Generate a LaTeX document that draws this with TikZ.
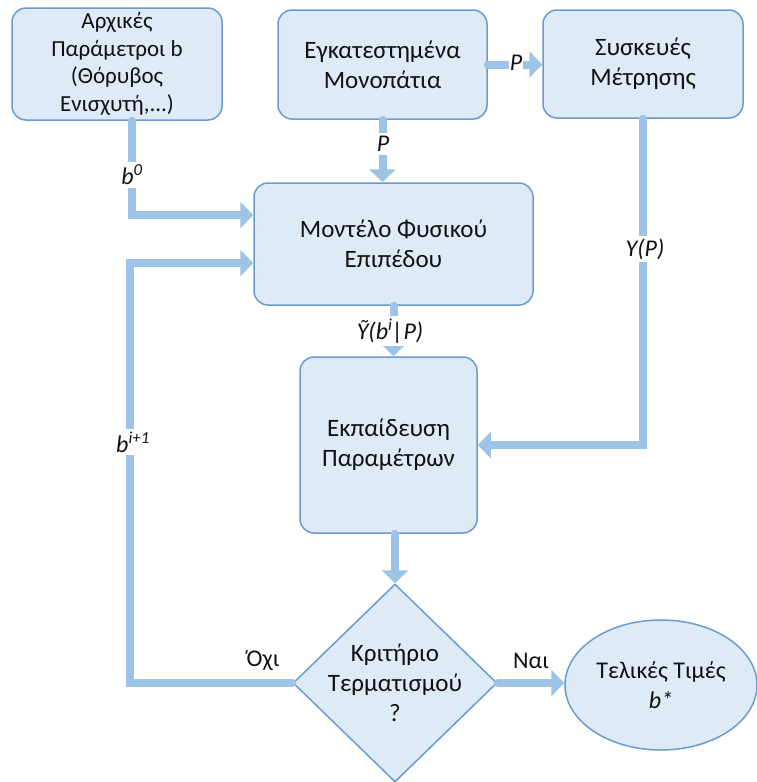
\documentclass[tikz,border=0pt]{standalone}
\usepackage{fontspec}
\setmainfont{Carlito}
\usetikzlibrary{shapes.geometric,arrows.meta}
\definecolor{boxfill}{HTML}{DEEBF7}
\definecolor{boxline}{HTML}{6A9BD0}
\definecolor{flow}{HTML}{9DC3E6}
\definecolor{ink}{HTML}{111111}
\begin{document}
\begin{tikzpicture}[x=1pt,y=-1pt,
  box/.style={draw=boxline, line width=1.5pt, fill=boxfill, rounded corners=14pt,
    align=center, text=ink, inner sep=0pt, font=\fontsize{25}{30}\selectfont},
  shapebox/.style={draw=boxline, line width=1.5pt, fill=boxfill, inner sep=0pt},
  conn/.style={draw=flow, line width=8pt, line cap=round,
    -{Triangle[length=13pt,width=26pt]}},
  lbl/.style={fill=white, inner sep=3pt, text=ink, font=\fontsize{24}{28}\selectfont\itshape},
  word/.style={inner sep=0pt, text=ink, font=\fontsize{24}{28}\selectfont}]
\useasboundingbox (0,0) rectangle (757,782);

% process boxes
\node[box, minimum width=210, minimum height=112, font=\fontsize{23}{27.5}\selectfont]
  (A) at (117,64) {Αρχικές\\Παράμετροι b\\(Θόρυβος\\Ενισχυτή,...)};
\node[box, minimum width=209, minimum height=109] (B) at (382.5,64.5) {Εγκατεστημένα\\Μονοπάτια};
\node[box, minimum width=200, minimum height=108] (C) at (643,64) {Συσκευές\\Μέτρησης};
\node[box, minimum width=279, minimum height=122] (D) at (393.5,244) {Μοντέλο Φυσικού\\Επιπέδου};
\node[box, minimum width=177, minimum height=176] (E) at (388.5,445) {Εκπαίδευση\\Παραμέτρων};

% decision and terminal
\node[shapebox, diamond, minimum width=204, minimum height=198] (dia) at (395,683) {};
\node[align=center, text=ink, font=\fontsize{25}{30}\selectfont] (diatext) at (dia.center) {Κριτήριο\\Τερματισμού\\?};
\node[shapebox, ellipse, minimum width=192, minimum height=130, align=center, text=ink,
  font=\fontsize{24}{30}\selectfont] (ell) at (661,685) {Τελικές Τιμές\\\textit{b*}};

% connectors and their labels
\draw[conn] ([xshift=15]A.south) |- ([yshift=29]D.west);
\node[lbl] (lb0) at (132,175) {b\textsuperscript{0}};

\draw[conn] (dia.west) -| ([xshift=-123, yshift=-19]D.west) -- ([yshift=-19]D.west);
\node[lbl] (lbi) at (133,442) {b\textsuperscript{i+1}};
\node[word] (no) at (263,661) {Όχι};

\draw[conn] (B.south) -- (B.south |- D.north);
\node[lbl] (lp1) at (383,144) {P};

\draw[conn] (B.east) -- (B.east -| C.west);
\node[lbl, inner sep=1pt] (lp2) at (516,63) {P};

\draw[conn] (D.south) -- (D.south |- E.north);
\node[lbl] (ly1) at (390,331) {Ỹ(b\textsuperscript{i}|P)};

\draw[conn] (C.south) |- (E.east);
\node[lbl] (ly2) at (645,249) {Y(P)};

\draw[conn] (dia.north |- E.south) -- (dia.north);

\draw[conn] (dia.east) -- (dia.east -| ell.west);
\node[word] (yes) at (531,661) {Ναι};
\end{tikzpicture}
\end{document}
